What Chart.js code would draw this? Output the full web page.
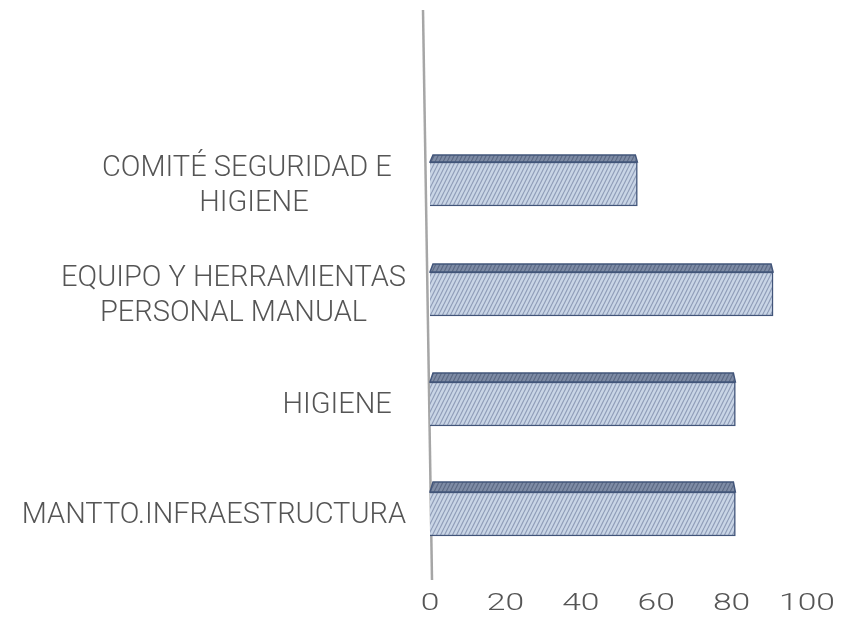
<!DOCTYPE html>
<html lang="es">
<head>
  <meta charset="UTF-8">
  <title>Seguridad e Higiene</title>
  <script src="https://cdn.jsdelivr.net/npm/chart.js"></script>
  <style>
    body { margin: 0; background: #fff; }
  </style>
</head>
<body>
  <canvas id="grafica" width="850" height="620"></canvas>
  <script>
    // categorias (la primera queda vacia, como en el original)
    const categorias = [
      [''],
      ['COMITÉ SEGURIDAD E  ', 'HIGIENE'],
      ['EQUIPO Y HERRAMIENTAS', 'PERSONAL MANUAL'],
      ['HIGIENE  '],
      ['MANTTO.INFRAESTRUCTURA']
    ];
    const valores = [null, 55, 91, 81, 81];
    const ticksX = [0, 20, 40, 60, 80, 100];

    function rayado(fondo, linea) {
      const c = document.createElement('canvas');
      c.width = 4; c.height = 8;
      const g = c.getContext('2d');
      g.fillStyle = fondo;
      g.fillRect(0, 0, 4, 8);
      g.strokeStyle = linea;
      g.lineWidth = 1.2;
      g.beginPath();
      for (let k = -1; k <= 1; k++) {
        g.moveTo(k * 4, 8); g.lineTo(k * 4 + 4, 0);
      }
      g.stroke();
      return g.createPattern(c, 'repeat');
    }

    const ctx = document.getElementById('grafica').getContext('2d');
    const frente = rayado('#c9d5e6', '#8f9db8');
    const arriba = rayado('#7e8ca6', '#5b6983');

    const dibujo = {
      id: 'dibujo',
      beforeDatasetsDraw(chart) {
        const c = chart.ctx, a = chart.chartArea;
        const x0 = chart.scales.x.getPixelForValue(0);
        c.save();
        c.strokeStyle = '#a6a6a6';
        c.lineWidth = 2.5;
        c.beginPath();
        c.moveTo(x0 - 7, a.top - 9);
        c.lineTo(x0 + 2, a.bottom + 11);
        c.stroke();
        c.restore();
      },
      afterDatasetsDraw(chart) {
        const c = chart.ctx;
        const meta = chart.getDatasetMeta(0);
        c.save();
        meta.data.forEach((bar, i) => {
          if (valores[i] == null) return;
          const p = bar.getProps(['x', 'y', 'base', 'height'], true);
          const top = p.y - p.height / 2;
          const prof = 6 + i * 1;
          c.beginPath();
          c.moveTo(p.base, top);
          c.lineTo(p.base + 3, top - prof);
          c.lineTo(p.x - 2, top - prof);
          c.lineTo(p.x, top);
          c.closePath();
          c.fillStyle = arriba;
          c.fill();
          c.strokeStyle = '#42557a';
          c.lineWidth = 1.5;
          c.stroke();
        });
        c.restore();
      },
      afterDraw(chart) {
        const c = chart.ctx, a = chart.chartArea;
        const xs = chart.scales.x, ys = chart.scales.y;
        c.save();
        // etiquetas de categoria
        c.font = '300 29px Roboto';
        c.fillStyle = '#555555';
        c.textBaseline = 'middle';
        c.textAlign = 'center';
        categorias.forEach((lineas, i) => {
          const y = ys.getPixelForValue(i) + 2;
          const ancho = Math.max(...lineas.map(t => c.measureText(t).width));
          const cx = 406 - ancho / 2;
          const alto = 35;
          lineas.forEach((t, k) => {
            c.fillText(t, cx, y + (k - (lineas.length - 1) / 2) * alto);
          });
        });
        // etiquetas del eje x
        c.font = '300 24px Roboto';
        c.fillStyle = '#555555';
        ticksX.forEach(v => {
          const x = xs.getPixelForValue(v);
          c.save();
          c.translate(x, a.bottom + 35);
          c.scale(1.4, 1);
          c.fillText(String(v), 0, 0);
          c.restore();
        });
        c.restore();
      }
    };

    new Chart(ctx, {
      type: 'bar',
      data: {
        labels: categorias,
        datasets: [{
          data: valores,
          backgroundColor: frente,
          borderColor: '#42557a',
          borderWidth: 1.5,
          barThickness: 44
        }]
      },
      options: {
        indexAxis: 'y',
        responsive: false,
        animation: false,
        layout: { padding: { left: 430, right: 43, top: 19, bottom: 51 } },
        plugins: { legend: { display: false }, tooltip: { enabled: false } },
        scales: {
          x: { display: false, min: 0, max: 100 },
          y: { display: false }
        }
      },
      plugins: [dibujo]
    });
  </script>
</body>
</html>
